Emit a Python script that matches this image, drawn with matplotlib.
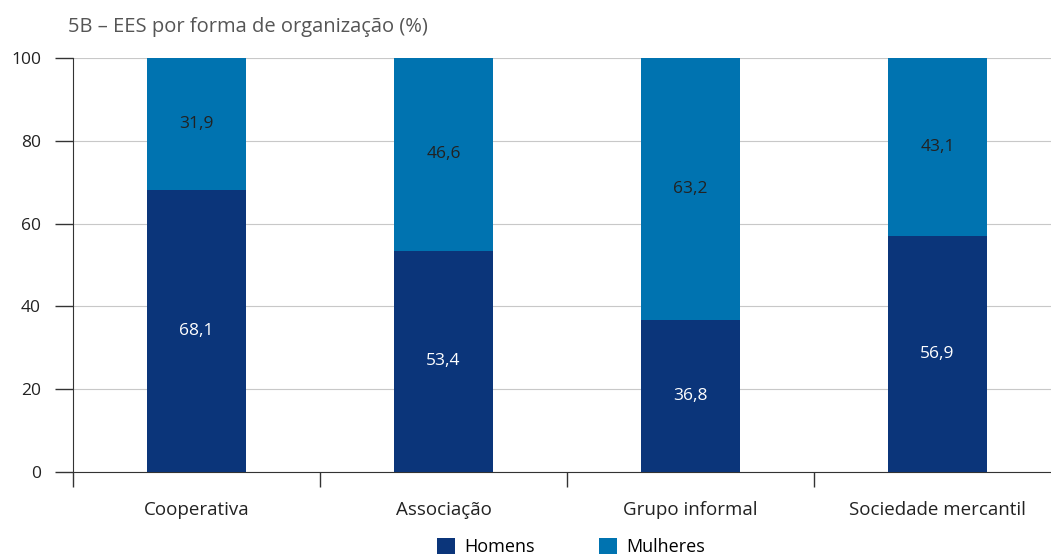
import numpy as np
import matplotlib.pyplot as plt

plt.rcParams['font.family'] = ['Open Sans', 'DejaVu Sans']

categorias = ["Cooperativa", "Associação", "Grupo informal", "Sociedade mercantil"]
homens = [68.1, 53.4, 36.8, 56.9]
mulheres = [31.9, 46.6, 63.2, 43.1]

cor_h = "#0b357a"
cor_m = "#0073b0"

fig = plt.figure(figsize=(10.51, 5.56), dpi=100)
ax = fig.add_axes([73/1051, 84/556, 988/1051, 414/556])

x = np.arange(len(categorias))
b1 = ax.bar(x, homens, width=0.4, color=cor_h, label="Homens", zorder=3)
b2 = ax.bar(x, mulheres, width=0.4, bottom=homens, color=cor_m, label="Mulheres", zorder=3)

# rotulos dentro das barras
for i in range(len(x)):
    ax.text(x[i], homens[i]/2, f"{homens[i]:.1f}".replace(".", ","), ha="center", va="center",
            color="white", fontsize=12.5, zorder=4)
    ax.text(x[i], homens[i] + mulheres[i]/2, f"{mulheres[i]:.1f}".replace(".", ","), ha="center",
            va="center", color="#222222", fontsize=12.5, zorder=4)

ax.set_xlim(-0.5, 3.5)
ax.set_ylim(0, 100)
ax.set_yticks([0, 20, 40, 60, 80, 100])
ax.yaxis.grid(True, color="#c8c8c8", linewidth=0.8, zorder=0)

ax.set_xticks(x)
ax.set_xticklabels(categorias, fontsize=13.5, color="#222222")
ax.tick_params(axis="x", length=0, pad=21)
ax.set_xticks([-0.5, 0.5, 1.5, 2.5], minor=True)
ax.tick_params(axis="x", which="minor", length=11, width=1, color="#333333")
ax.tick_params(axis="y", length=13, width=1, color="#333333", labelsize=12.5, labelcolor="#222222", pad=10)

for s in ["top", "right"]:
    ax.spines[s].set_visible(False)
ax.spines["left"].set_color("#333333")
ax.spines["bottom"].set_color("#333333")

fig.text(68/1051, 1 - 27/556, "5B – EES por forma de organização (%)", fontsize=14.5,
         color="#555555", va="center", ha="left")

ax.legend(loc="center", bbox_to_anchor=(571/1051, 1 - 547/556), bbox_transform=fig.transFigure,
          ncol=2, frameon=False, fontsize=13, handlelength=1.0, handleheight=1.0,
          columnspacing=3.6, handletextpad=0.5)

plt.savefig("out.png", dpi=100)
